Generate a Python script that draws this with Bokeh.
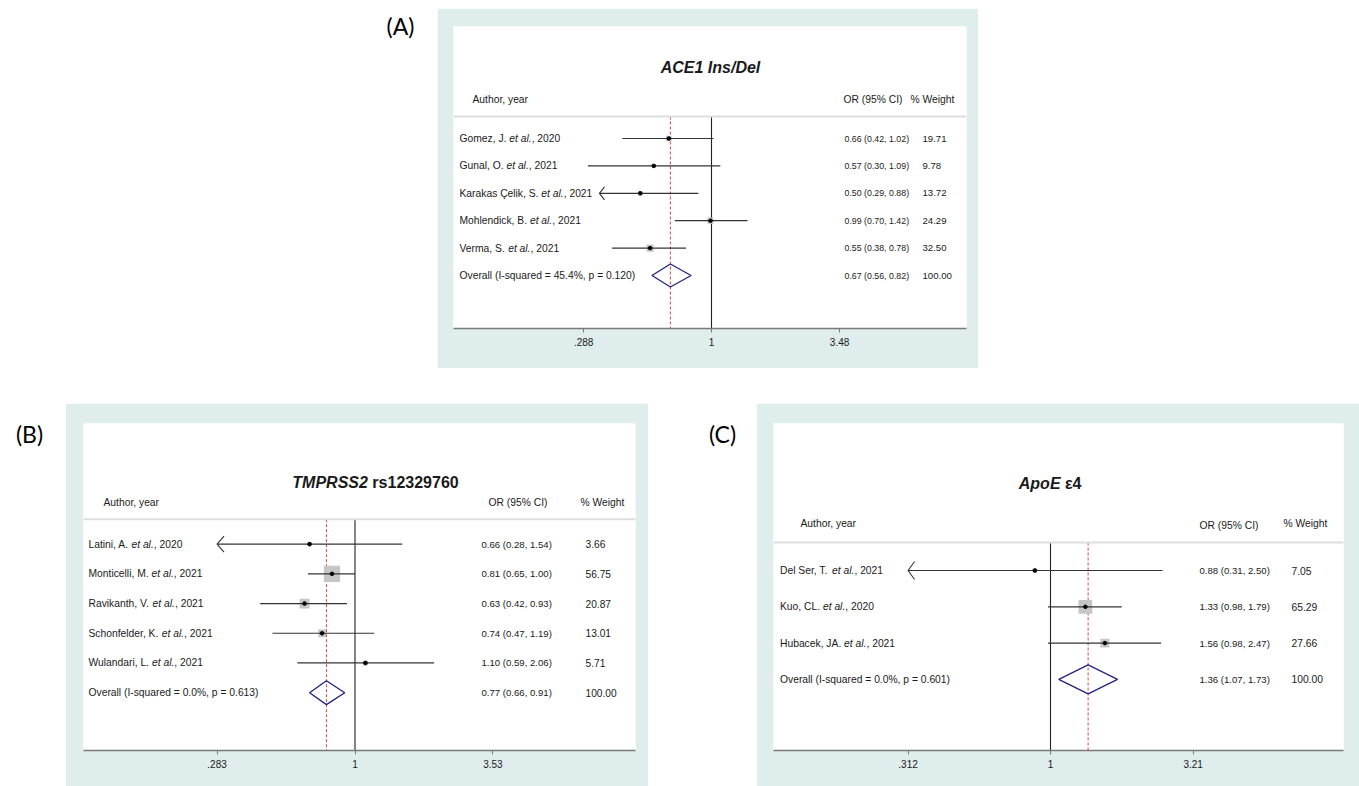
import math
from bokeh.plotting import figure
from bokeh.models import Range1d, FixedTicker, Span, Spacer, CustomJSTickFormatter
from bokeh.layouts import row, column
from bokeh.embed import file_html
from bokeh.resources import INLINE
from bokeh.core.properties import value

# ---------------- data ----------------
a_authors = ["Gomez, J.", "Gunal, O.", "Karakas Çelik, S.", "Mohlendick, B.", "Verma, S."]
a_years = [2020, 2021, 2021, 2021, 2021]
a_or = [0.66, 0.57, 0.50, 0.99, 0.55]
a_lo = [0.42, 0.30, 0.29, 0.70, 0.38]
a_hi = [1.02, 1.09, 0.88, 1.42, 0.78]
a_wt = [19.71, 9.78, 13.72, 24.29, 32.50]
a_offscale = [False, False, True, False, False]
a_clip = 0.336
a_overall = [0.67, 0.56, 0.82]
a_i2, a_p = "45.4%", "0.120"
a_ticks = [0.288, 1, 3.48]

b_authors = ["Latini, A.", "Monticelli, M.", "Ravikanth, V.", "Schonfelder, K.", "Wulandari, L."]
b_years = [2020, 2021, 2021, 2021, 2021]
b_or = [0.66, 0.81, 0.63, 0.74, 1.10]
b_lo = [0.28, 0.65, 0.42, 0.47, 0.59]
b_hi = [1.54, 1.00, 0.93, 1.19, 2.06]
b_wt = [3.66, 56.75, 20.87, 13.01, 5.71]
b_offscale = [True, False, False, False, False]
b_clip = 0.283
b_overall = [0.77, 0.66, 0.91]
b_i2, b_p = "0.0%", "0.613"
b_ticks = [0.283, 1, 3.53]

c_authors = ["Del Ser, T.", "Kuo, CL.", "Hubacek, JA."]
c_years = [2021, 2020, 2021]
c_or = [0.88, 1.33, 1.56]
c_lo = [0.31, 0.98, 0.98]
c_hi = [2.50, 1.79, 2.47]
c_wt = [7.05, 65.29, 27.66]
c_offscale = [True, False, False]
c_clip = 0.312
c_overall = [1.36, 1.07, 1.73]
c_i2, c_p = "0.0%", "0.601"
c_ticks = [0.312, 1, 3.21]

# ---------------- styling ----------------
TEAL = "#dfeded"
FONT = "Liberation Sans"
FS = 10.3
TXT = "#1a1a1a"
CI_COL = "#333333"
BOX_COL = "#c6c6c6"
RED = "#d0464c"
NAVY = "#23237f"

W_REG = {' ': 278, ',': 278, '.': 278, '(': 333, ')': 333, '-': 333, '%': 889, '=': 584, '/': 278,
         'A': 667, 'B': 667, 'C': 722, 'Ç': 722, 'D': 722, 'E': 667, 'F': 611, 'G': 778, 'H': 722,
         'I': 278, 'J': 500, 'K': 667, 'L': 556, 'M': 833, 'N': 722, 'O': 778, 'P': 667, 'Q': 778,
         'R': 722, 'S': 667, 'T': 611, 'U': 722, 'V': 667, 'W': 944, 'X': 667, 'Y': 667, 'Z': 611,
         'a': 556, 'b': 556, 'c': 500, 'd': 556, 'e': 556, 'f': 278, 'g': 556, 'h': 556, 'i': 222,
         'j': 222, 'k': 500, 'l': 222, 'm': 833, 'n': 556, 'o': 556, 'p': 556, 'q': 556, 'r': 333,
         's': 500, 't': 278, 'u': 556, 'v': 500, 'w': 722, 'x': 500, 'y': 500, 'z': 500}
W_BOLD = {' ': 278, '/': 278, 'A': 722, 'C': 722, 'D': 722, 'E': 667, 'I': 278, 'M': 833, 'P': 667,
          'R': 722, 'S': 667, 'T': 611, 'e': 556, 'l': 278, 'n': 611, 'o': 611, 'p': 611, 'r': 389,
          's': 556, 'ε': 520}


def tw(s, fs, table):
    return sum(table.get(ch, 556) for ch in s) / 1000.0 * fs


def txt(p, x, y, t, size=FS, style="normal", offs=None, align="left", font=FONT):
    kw = {}
    if offs is not None:
        kw["x_offset"] = offs
    p.text(x=x, y=y, text=t, text_font=value(font), text_font_size=f"{size}px",
           text_font_style=style, text_color=TXT, text_baseline="middle", text_align=align, **kw)


def panel(cfg, authors, years, ors, los, his, wts, offscale, clip, overall, i2, pv, ticks, title_parts):
    x1, ppl = cfg["x1"], cfg["ppl"]
    row0, step = cfg["row0"], cfg["step"]

    def X(px):
        return math.exp((px - x1) / ppl)

    def Y(px):
        return (px - row0) / step

    p = figure(width=cfg["w"], height=cfg["h"], x_axis_type="log",
               x_range=Range1d(X(cfg["fl"]), X(cfg["fr"])),
               y_range=Range1d(Y(cfg["fb"]), Y(cfg["ft"])),
               y_axis_location=None, toolbar_location=None, output_backend="svg")
    p.min_border_left, p.min_border_right, p.min_border_top, p.min_border_bottom = cfg["borders"]
    p.border_fill_color = TEAL
    p.background_fill_color = "white"
    p.outline_line_color = None
    p.grid.visible = False

    ax = p.xaxis[0]
    ax.ticker = FixedTicker(ticks=ticks, minor_ticks=[])
    ax.formatter = CustomJSTickFormatter(code="const s = String(tick); return s.startsWith('0.') ? s.slice(1) : s;")
    ax.axis_line_color = "#7a7a7a"
    ax.axis_line_width = 1.6
    ax.major_tick_line_color = "#7a7a7a"
    ax.major_tick_out = 4
    ax.major_tick_in = 0
    ax.minor_tick_line_color = None
    ax.major_label_standoff = 5
    ax.major_label_text_font = FONT
    ax.major_label_text_font_size = "10px"
    ax.major_label_text_color = TXT

    n = len(ors)
    ys = list(range(n))
    ysep = Y(cfg["sep"])
    ybot = Y(cfg["fb"])

    # separator under header
    p.add_layout(Span(location=ysep, dimension="width", line_color="#dedede", line_width=2))

    # null line and overall dashed line
    p.segment(x0=[1], y0=[ysep], x1=[1], y1=[ybot], line_color="#222222", line_width=1.1)
    p.segment(x0=[overall[0]], y0=[ysep], x1=[overall[0]], y1=[ybot], line_color=RED,
              line_width=1, line_dash="3 2")

    # weight boxes
    p.scatter(x=ors, y=ys, marker="square", size=[cfg["k"] * math.sqrt(w) for w in wts],
              fill_color=BOX_COL, line_color=None)

    # CI lines
    x0s = [clip if off else lo for lo, off in zip(los, offscale)]
    p.segment(x0=x0s, y0=ys, x1=his, y1=ys, line_color=CI_COL, line_width=1.2)

    # off-scale arrow heads
    al, ah = cfg["arrow"]
    axs, ays = [], []
    for y, off in zip(ys, offscale):
        if off:
            axs.append([clip * math.exp(al / ppl), clip, clip * math.exp(al / ppl)])
            ays.append([y - ah / step, y, y + ah / step])
    if axs:
        p.multi_line(xs=axs, ys=ays, line_color=CI_COL, line_width=1.1)

    # point estimates
    p.scatter(x=ors, y=ys, marker="circle", size=3.6, fill_color="black", line_color="black")

    # overall diamond
    hh = cfg["dia"] / step
    p.patch(x=[overall[1], overall[0], overall[2], overall[0]], y=[n, n - hh, n, n + hh],
            fill_color=None, line_color=NAVY, line_width=1.3)

    # study labels (with italic "et al.")
    xl = [X(cfg["lab"])] * n
    o1 = [tw(a + " ", FS, W_REG) for a in authors]
    o2 = [o + tw("et al.", FS, W_REG) for o in o1]
    txt(p, xl, ys, authors)
    txt(p, xl, ys, ["et al."] * n, style="italic", offs=o1)
    txt(p, xl, ys, [f", {yr}" for yr in years], offs=o2)
    txt(p, [X(cfg["lab"])], [n], [f"Overall  (I-squared = {i2}, p = {pv})"])

    # OR and weight columns
    or_t = [f"{o:.2f} ({l:.2f}, {h:.2f})" for o, l, h in zip(ors, los, his)]
    or_t.append(f"{overall[0]:.2f} ({overall[1]:.2f}, {overall[2]:.2f})")
    txt(p, [X(cfg["orx"])] * (n + 1), list(range(n + 1)), or_t, size=cfg["ofs"])
    wt_t = [f"{w:.2f}" for w in wts] + [f"{sum(wts):.2f}"]
    txt(p, [X(cfg["wtx"])] * (n + 1), list(range(n + 1)), wt_t, size=cfg["wfs"])

    # headers
    yh = Y(cfg["hdr"])
    txt(p, [X(cfg["hdr_auth"])], [yh], [cfg["auth_text"]])
    txt(p, [X(cfg["hdr_or"])], [Y(cfg["hdr_or_y"])], ["OR (95% CI)"])
    txt(p, [X(cfg["hdr_wt"])], [yh], ["% Weight"])

    # title (parts in different styles, placed side by side)
    TS = 16
    widths = [tw(s, TS, W_BOLD) for s, _ in title_parts]
    start = cfg["tcx"] - sum(widths) / 2
    off = 0
    for (s, st), w in zip(title_parts, widths):
        lead = len(s) - len(s.lstrip(" "))
        txt(p, [X(start)], [Y(cfg["ty"])], [s.strip()], size=TS, style=st,
            offs=[off + tw(" " * lead, TS, W_BOLD)])
        off += w
    return p


cfgA = dict(w=541, h=360, borders=(16, 12, 18, 40), fl=453, fr=966, ft=26, fb=328,
            x1=711, ppl=102.7, row0=138, step=27.4, sep=116, hdr=99, hdr_or_y=99, ty=67, tcx=710,
            lab=459, hdr_auth=472, hdr_or=843, hdr_wt=910, orx=844, wtx=922, wfs=9.6, ofs=8.8,
            k=1.25, arrow=(5, 6.5), dia=11.5, auth_text="Author,  year")
cfgB = dict(w=583, h=383, borders=(18, 13, 20, 35), fl=83, fr=635, ft=423, fb=751,
            x1=354.5, ppl=109.3, row0=544, step=29.8, sep=519, hdr=502, hdr_or_y=502, ty=482, tcx=375,
            lab=88, hdr_auth=103, hdr_or=488, hdr_wt=580, orx=481, wtx=585, wfs=10.2, ofs=9.6,
            k=2.15, arrow=(7, 8), dia=12, auth_text="Author, year")
cfgC = dict(w=603, h=383, borders=(17, 16, 20, 36), fl=773, fr=1343, ft=423, fb=750,
            x1=1050, ppl=122.3, row0=570, step=36.3, sep=542, hdr=523, hdr_or_y=525, ty=483, tcx=1050,
            lab=779.5, hdr_auth=800, hdr_or=1199, hdr_wt=1283, orx=1199, wtx=1291, wfs=10.3, ofs=9.6,
            k=1.7, arrow=(6.5, 9), dia=14.5, auth_text="Author,  year")

figA = panel(cfgA, a_authors, a_years, a_or, a_lo, a_hi, a_wt, a_offscale, a_clip, a_overall,
             a_i2, a_p, a_ticks, [("ACE1 Ins/Del", "bold italic")])
figB = panel(cfgB, b_authors, b_years, b_or, b_lo, b_hi, b_wt, b_offscale, b_clip, b_overall,
             b_i2, b_p, b_ticks, [("TMPRSS2", "bold italic"), (" rs12329760", "bold")])
figC = panel(cfgC, c_authors, c_years, c_or, c_lo, c_hi, c_wt, c_offscale, c_clip, c_overall,
             c_i2, c_p, c_ticks, [("ApoE", "bold italic"), (" ε4", "bold")])


def label_fig(w, h, t, cx, cy):
    p = figure(width=w, height=h, x_range=Range1d(0, w), y_range=Range1d(h, 0),
               x_axis_location=None, y_axis_location=None, toolbar_location=None,
               output_backend="svg", min_border=0)
    p.grid.visible = False
    p.outline_line_color = None
    p.text(x=[cx], y=[cy], text=[t], text_font=value("Lato"), text_font_size="23px",
           text_color="black", text_align="center", text_baseline="middle")
    return p


labA = label_fig(437, 368, "(A)", 400, 25)
labB = label_fig(65, 383, "(B)", 29, 12)
labC = label_fig(108, 383, "(C)", 74, 12)

rowA = row(labA, column(Spacer(width=541, height=8), figA), Spacer(width=381, height=368))
rowB = row(labB, figB, labC, figC)
root = column(rowA, Spacer(width=1359, height=35), rowB)

open("out.html", "w").write(file_html(root, INLINE))
